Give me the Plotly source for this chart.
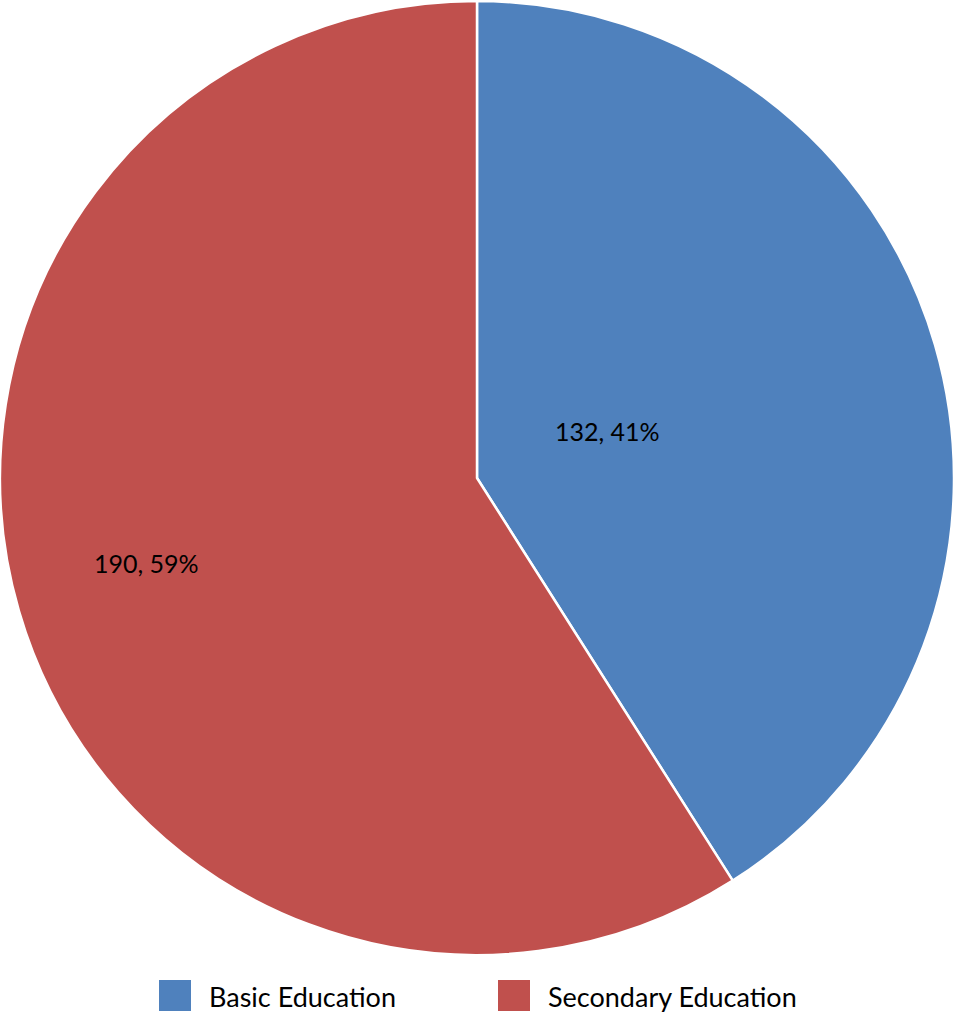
import plotly.graph_objects as go

categories = ["Basic Education", "Secondary Education"]
values = [132, 190]
colors = ["#4F81BD", "#C0504D"]

total = sum(values)
label_texts = [f"{v}, {round(100 * v / total)}%" for v in values]

W, H = 954, 1012
FONT = "Lato"

fig = go.Figure(go.Pie(
    labels=categories,
    values=values,
    marker=dict(colors=colors, line=dict(color="white", width=2.5)),
    sort=False,
    direction="clockwise",
    rotation=0,
    textinfo="none",
    domain=dict(x=[0, 1], y=[1 - 956 / H, 1]),
    hoverinfo="label+value+percent",
    showlegend=False,
))

# data labels (positions as placed by the original chart)
label_pos = [(607, 431), (146, 563)]
annotations = []
for txt, (px, py) in zip(label_texts, label_pos):
    annotations.append(dict(
        x=px / W, y=1 - py / H, xref="paper", yref="paper",
        text=txt, showarrow=False, xanchor="center", yanchor="middle",
        font=dict(family=FONT, size=25, color="black"),
    ))

# legend (large square swatches like the original)
legend_swatch_x = [159, 498]
shapes = []
for cat, col, sx in zip(categories, colors, legend_swatch_x):
    shapes.append(dict(
        type="rect", xref="paper", yref="paper",
        x0=sx / W, x1=(sx + 32) / W, y0=1 - 1011 / H, y1=1 - 980 / H,
        fillcolor=col, line=dict(width=0),
    ))
    annotations.append(dict(
        x=(sx + 48) / W, y=1 - 996 / H, xref="paper", yref="paper",
        text=cat, showarrow=False, xanchor="left", yanchor="middle",
        font=dict(family=FONT, size=27, color="black"),
    ))

fig.update_layout(
    width=W, height=H,
    margin=dict(l=0, r=0, t=0, b=0),
    paper_bgcolor="white",
    showlegend=False,
    annotations=annotations,
    shapes=shapes,
)

fig.write_html("out.html", config={"displayModeBar": False},
               post_script="document.body.style.margin='0';")
